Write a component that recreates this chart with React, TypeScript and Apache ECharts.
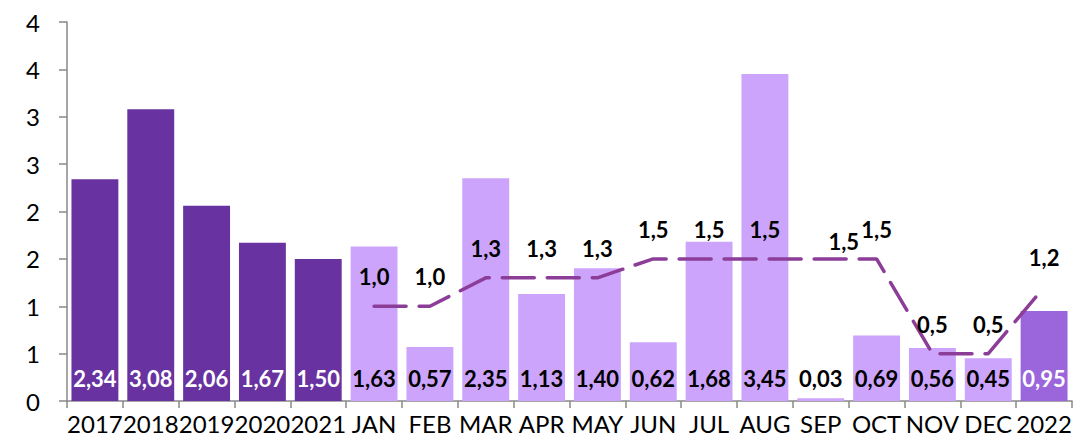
import React, { useEffect, useRef } from "react";
import * as echarts from "echarts";

const categories = ["2017", "2018", "2019", "2020", "2021", "JAN", "FEB", "MAR", "APR", "MAY", "JUN", "JUL", "AUG", "SEP", "OCT", "NOV", "DEC", "2022"];
const barValues = [2.34, 3.08, 2.06, 1.67, 1.5, 1.63, 0.57, 2.35, 1.13, 1.4, 0.62, 1.68, 3.45, 0.03, 0.69, 0.56, 0.45, 0.95];
const barKinds = ["year", "year", "year", "year", "year", "month", "month", "month", "month", "month", "month", "month", "month", "month", "month", "month", "month", "total"];
const lineValues: (number | null)[] = [null, null, null, null, null, 1.0, 1.0, 1.3, 1.3, 1.3, 1.5, 1.5, 1.5, 1.5, 1.5, 0.5, 0.5, 1.2];
const yTicks = { min: 0, max: 4, interval: 0.5 };

const kindColor: Record<string, string> = { year: "#6833a0", month: "#cca4fc", total: "#9b66dc" };
const kindLabel: Record<string, string> = { year: "#ffffff", month: "#000000", total: "#ffffff" };
const FONT = "Lato, 'Open Sans', sans-serif";

export default function App() {
  const ref = useRef<HTMLDivElement>(null);
  useEffect(() => {
    if (!ref.current) return;
    const chart = echarts.init(ref.current, null, { renderer: "svg" });
    chart.setOption({
      animation: false,
      grid: { left: 67, right: 12, top: 22, bottom: 36 },
      xAxis: {
        type: "category",
        data: categories,
        axisLine: { lineStyle: { color: "#888888", width: 1.5 } },
        axisTick: { show: true, length: 7, lineStyle: { color: "#888888", width: 1.5 } },
        axisLabel: { color: "#000000", fontSize: 24, fontFamily: FONT, margin: 10, interval: 0 },
      },
      yAxis: {
        type: "value",
        min: yTicks.min,
        max: yTicks.max,
        interval: yTicks.interval,
        splitLine: { show: false },
        axisLine: { show: true, lineStyle: { color: "#888888", width: 1.5 } },
        axisTick: { show: true, length: 8, lineStyle: { color: "#888888", width: 1.5 } },
        axisLabel: {
          color: "#000000",
          fontSize: 24,
          fontFamily: FONT,
          margin: 27,
          formatter: (v: number) => String(Math.round(v)),
        },
      },
      series: [
        {
          type: "bar",
          barCategoryGap: "16%",
          data: barValues.map((v, i) => ({
            value: v,
            itemStyle: { color: kindColor[barKinds[i]] },
            label: { color: kindLabel[barKinds[i]] },
          })),
          label: {
            show: true,
            position: "insideBottom",
            distance: 12,
            fontSize: 22,
            fontWeight: "bold",
            fontFamily: FONT,
            formatter: (p: any) => p.value.toFixed(2).replace(".", ","),
          },
        },
        {
          type: "line",
          data: lineValues.map((v, i) =>
            categories[i] === "SEP" ? { value: v, label: { offset: [23, 12] } } : v
          ),
          symbol: "circle",
          symbolSize: 1,
          itemStyle: { color: "rgba(0,0,0,0)", borderWidth: 0 },
          lineStyle: { color: "#8b3d98", width: 3.5, type: [32, 13], cap: "round" },
          label: {
            show: true,
            position: "top",
            distance: 18,
            color: "#000000",
            fontSize: 22,
            fontWeight: "bold",
            fontFamily: FONT,
            formatter: (p: any) => (p.value == null ? "" : Number(p.value).toFixed(1).replace(".", ",")),
          },
          z: 5,
        },
      ],
    });
    return () => chart.dispose();
  }, []);
  return <div ref={ref} style={{ position: "absolute", left: 0, top: 0, width: 1084, height: 437, background: "#ffffff" }} />;
}
